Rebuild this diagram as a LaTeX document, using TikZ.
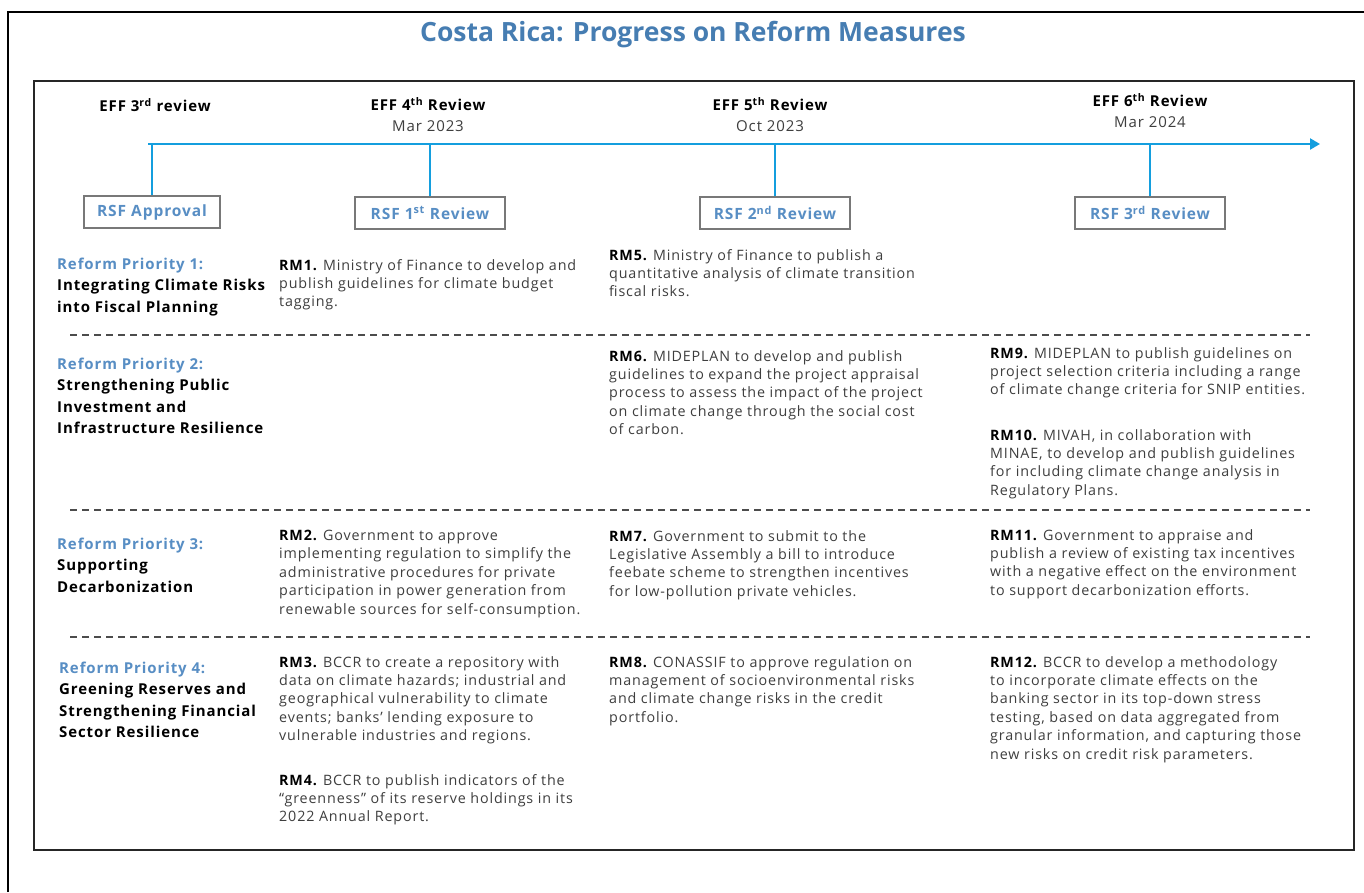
\documentclass[tikz,border=0pt]{standalone}
\usepackage{fontspec}
\setmainfont{Open Sans}[LetterSpace=6]
\usepackage{xcolor}
\usetikzlibrary{arrows.meta}
\definecolor{lineblue}{RGB}{20,158,222}
\definecolor{titleblue}{RGB}{70,125,178}
\definecolor{prioblue}{RGB}{88,142,196}
\definecolor{textgray}{RGB}{62,62,62}
\definecolor{boxgray}{RGB}{120,120,120}
\tikzset{
    title/.style={font=\fontsize{26.5}{30}\selectfont\bfseries\addfontfeature{LetterSpace=0},text=titleblue},
    effhead/.style={font=\fontsize{15}{18}\selectfont\bfseries,inner sep=0mm},
    effdate/.style={font=\fontsize{15}{18}\selectfont,text=textgray,inner sep=0mm},
    rsfbox/.style={draw=boxgray,line width=1.2pt,minimum height=32,inner sep=0mm,
        font=\fontsize{15.5}{18}\selectfont\bfseries,text=prioblue},
    timeline/.style={draw=lineblue,line width=2.2pt},
    measure/.style={anchor=north west,align=left,inner sep=0mm,text=textgray,
        font=\fontsize{14.3}{18.4}\selectfont},
    priority/.style={anchor=north west,align=left,inner sep=0mm,
        font=\fontsize{15}{21.2}\selectfont\bfseries},
    separator/.style={draw=black!70,line width=1.3pt,dash pattern=on 7pt off 5pt}
}
\newcommand{\review}[5] {
    \node[effhead] (#1) at ({#2}, {#3}) {EFF #4 Review};
    \node[effdate] (#1date) at ({#2}, {#3+22}) {#5};
}
\newcommand{\rsf}[5] {
    \node[rsfbox,minimum width={#4}] (#1) at ({#2}, {#3}) {#5};
    \draw[timeline] (#1.north) -- (#1.north |- tstart);
}
\newcommand{\priority}[5] {
    \node[priority] (#1) at ({#2}, {#3}) {{\color{prioblue}Reform Priority #4}\\#5};
}
\newcommand{\measure}[5] {
    \node[measure] (#1) at ({#2}, {#3}) {{\bfseries\color{black}#4} #5};
}

\begin{document}
\begin{tikzpicture}[x=1pt,y=-1pt]
    \useasboundingbox (0,0) rectangle (1364,892);
    \fill[white] (0,0) rectangle (1364,892);
    % frame
    \draw[line width=2.5pt] (8,892) -- (8,12) -- (1364,12);
    \draw[line width=1.3pt,black!85] (34,81) rectangle (1354,850);
    \node[title] (title) at (693,35) {Costa Rica: Progress on Reform Measures};

    % timeline
    \coordinate (tstart) at (148,144);
    \coordinate (tend) at (1320,144);
    \draw[timeline,-{Triangle[length=10pt,width=11pt]}] (tstart) -- (tend);
    \node[effhead] (eff3) at (155,105) {EFF 3\textsuperscript{rd} review};
    \review{eff4}{428}{104}{4\textsuperscript{th}}{Mar 2023}
    \review{eff5}{770}{104}{5\textsuperscript{th}}{Oct 2023}
    \review{eff6}{1150}{100}{6\textsuperscript{th}}{Mar 2024}
    \rsf{rsf0}{152}{212}{136}{RSF Approval}
    \rsf{rsf1}{430}{213}{150}{RSF 1\textsuperscript{st} Review}
    \rsf{rsf2}{775}{213}{150}{RSF 2\textsuperscript{nd} Review}
    \rsf{rsf3}{1150}{213}{150}{RSF 3\textsuperscript{rd} Review}

    % rows
    \foreach \y in {335,510,637}
        \draw[separator] (70,\y) -- (1310,\y);
    \priority{rp1}{57}{258}{1:}{Integrating Climate Risks\\into Fiscal Planning}
    \priority{rp2}{57}{358}{2:}{Strengthening Public\\Investment and\\Infrastructure Resilience}
    \priority{rp3}{57}{538}{3:}{Supporting\\Decarbonization}
    \priority{rp4}{59}{662}{4:}{Greening Reserves and\\Strengthening Financial\\Sector Resilience}

    \measure{rm1}{279}{259}{RM1.}{Ministry of Finance to develop and\\publish guidelines for climate budget\\tagging.}
    \measure{rm5}{609}{249}{RM5.}{Ministry of Finance to publish a\\quantitative analysis of climate transition\\fiscal risks.}
    \measure{rm6}{609}{350}{RM6.}{MIDEPLAN to develop and publish\\guidelines to expand the project appraisal\\process to assess the impact of the project\\on climate change through the social cost\\of carbon.}
    \measure{rm9}{990}{347}{RM9.}{MIDEPLAN to publish guidelines on\\project selection criteria including a range\\of climate change criteria for SNIP entities.}
    \measure{rm10}{990}{429}{RM10.}{MIVAH, in collaboration with\\MINAE, to develop and publish guidelines\\for including climate change analysis in\\Regulatory Plans.}
    \measure{rm2}{279}{530}{RM2.}{Government to approve\\implementing regulation to simplify the\\administrative procedures for private\\participation in power generation from\\renewable sources for self-consumption.}
    \measure{rm7}{609}{530}{RM7.}{Government to submit to the\\Legislative Assembly a bill to introduce\\feebate scheme to strengthen incentives\\for low-pollution private vehicles.}
    \measure{rm11}{990}{529}{RM11.}{Government to appraise and\\publish a review of existing tax incentives\\with a negative effect on the environment\\to support decarbonization efforts.}
    \measure{rm3}{279}{656}{RM3.}{BCCR to create a repository with\\data on climate hazards; industrial and\\geographical vulnerability to climate\\events; banks' lending exposure to\\vulnerable industries and regions.}
    \measure{rm4}{279}{774}{RM4.}{BCCR to publish indicators of the\\“greenness” of its reserve holdings in its\\2022 Annual Report.}
    \measure{rm8}{609}{656}{RM8.}{CONASSIF to approve regulation on\\management of socioenvironmental risks\\and climate change risks in the credit\\portfolio.}
    \measure{rm12}{990}{656}{RM12.}{BCCR to develop a methodology\\to incorporate climate effects on the\\banking sector in its top-down stress\\testing, based on data aggregated from\\granular information, and capturing those\\new risks on credit risk parameters.}
\end{tikzpicture}
\end{document}
